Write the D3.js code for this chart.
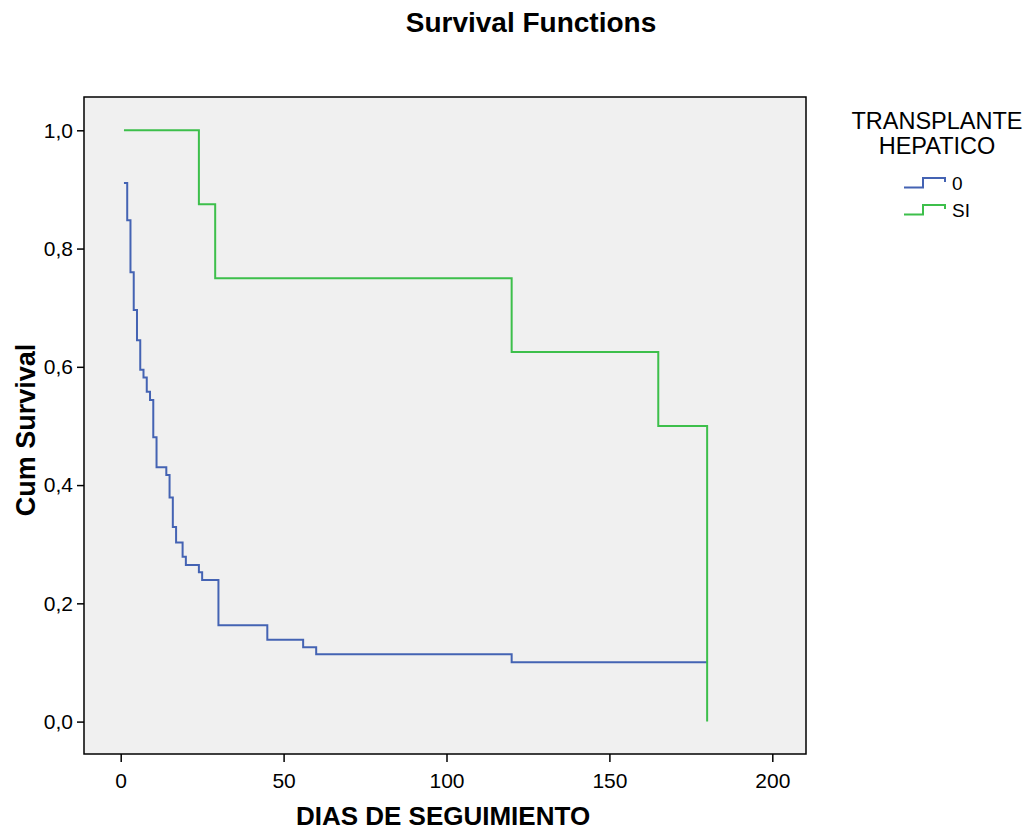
<!DOCTYPE html>
<html>
<head>
<meta charset="utf-8">
<script src="https://cdn.jsdelivr.net/npm/d3@7"></script>
<style>
  html, body { margin: 0; padding: 0; background: #ffffff; }
  svg { display: block; font-family: "Liberation Sans", Arial, sans-serif; }
</style>
</head>
<body>
<svg id="chart" width="1029" height="835"></svg>
<script>
// ---- Data ----
const groupNames = ["0", "SI"];
const legendTitle = ["TRANSPLANTE", "HEPATICO"];
// Group "0": step times and cumulative survival after each step
const timesNo = [1, 2, 3, 4, 5, 6, 7, 8, 9, 10, 11, 14, 15, 16, 17, 19, 20, 24, 25, 30, 45, 56, 60, 120, 180];
const survNo  = [0.911, 0.848, 0.760, 0.696, 0.645, 0.595, 0.582, 0.558, 0.544, 0.481, 0.430, 0.417, 0.379, 0.329, 0.303, 0.279, 0.265, 0.2525, 0.2395, 0.163, 0.1385, 0.1257, 0.1138, 0.1003, 0.1003];
// Group "SI"
const timesSi = [1, 24, 29, 120, 165, 180];
const survSi  = [1.0, 0.875, 0.75, 0.625, 0.5, 0.0];
const xTicks = [0, 50, 100, 150, 200];
const yTicks = [0, 0.2, 0.4, 0.6, 0.8, 1.0];
const colors = ["#4463b3", "#3dbf4b"];

// ---- Layout ----
const svg = d3.select("#chart");
const frame = { left: 84, right: 806, top: 97, bottom: 754 };
const x = d3.scaleLinear().domain([0, 200]).range([120.7, 772.3]);
const y = d3.scaleLinear().domain([0, 1]).range([721.6, 130.3]);

// Title
svg.append("text")
  .attr("x", 531).attr("y", 32)
  .attr("text-anchor", "middle")
  .attr("font-weight", "bold")
  .attr("font-size", 28)
  .attr("fill", "#000")
  .text("Survival Functions");

// Plot background / frame
svg.append("rect")
  .attr("x", frame.left).attr("y", frame.top)
  .attr("width", frame.right - frame.left)
  .attr("height", frame.bottom - frame.top)
  .attr("fill", "#f0f0f0")
  .attr("stroke", "#000")
  .attr("stroke-width", 1.5);

// Axes
const fmt = d => d3.format(".1f")(d).replace(".", ",");
const yAxis = svg.append("g")
  .attr("transform", `translate(${frame.left},0)`)
  .call(d3.axisLeft(y).tickValues(yTicks).tickFormat(fmt).tickSize(7).tickSizeOuter(0).tickPadding(4));
yAxis.select(".domain").remove();
yAxis.selectAll("line").attr("stroke", "#000").attr("stroke-width", 1.5);
yAxis.selectAll("text").attr("font-size", 21).attr("fill", "#000")
  .attr("font-family", "Liberation Sans, Arial, sans-serif");

const xAxis = svg.append("g")
  .attr("transform", `translate(0,${frame.bottom})`)
  .call(d3.axisBottom(x).tickValues(xTicks).tickFormat(d3.format("d")).tickSize(8).tickSizeOuter(0).tickPadding(11));
xAxis.select(".domain").remove();
xAxis.selectAll("line").attr("stroke", "#000").attr("stroke-width", 1.5);
xAxis.selectAll("text").attr("font-size", 21).attr("fill", "#000")
  .attr("font-family", "Liberation Sans, Arial, sans-serif");

// Axis titles
svg.append("text")
  .attr("transform", "translate(35,430) rotate(-90)")
  .attr("text-anchor", "middle")
  .attr("font-weight", "bold")
  .attr("font-size", 27)
  .attr("fill", "#000")
  .text("Cum Survival");

svg.append("text")
  .attr("x", 443).attr("y", 825)
  .attr("text-anchor", "middle")
  .attr("font-weight", "bold")
  .attr("font-size", 26)
  .attr("fill", "#000")
  .text("DIAS DE SEGUIMIENTO");

// Survival step curves
const line = d3.line()
  .x(d => x(d[0]))
  .y(d => y(d[1]))
  .curve(d3.curveStepAfter);

const series = [d3.zip(timesNo, survNo), d3.zip(timesSi, survSi)];
series.forEach((pts, i) => {
  svg.append("path")
    .datum(pts)
    .attr("d", line)
    .attr("fill", "none")
    .attr("stroke", colors[i])
    .attr("stroke-width", 2);
});

// Legend
const lg = svg.append("g");
legendTitle.forEach((t, i) => {
  lg.append("text")
    .attr("x", 937).attr("y", 129 + i * 25)
    .attr("text-anchor", "middle")
    .attr("font-size", 23.5)
    .attr("fill", "#000")
    .text(t);
});
groupNames.forEach((g, i) => {
  const cy = 183 + i * 27;
  lg.append("path")
    .attr("d", `M904,${cy + 4.5} H923 V${cy - 5} H945 V${cy - 1}`)
    .attr("fill", "none")
    .attr("stroke", colors[i])
    .attr("stroke-width", 2);
  lg.append("text")
    .attr("x", 952).attr("y", cy + 7)
    .attr("font-size", 19)
    .attr("fill", "#000")
    .text(g);
});
</script>
</body>
</html>
